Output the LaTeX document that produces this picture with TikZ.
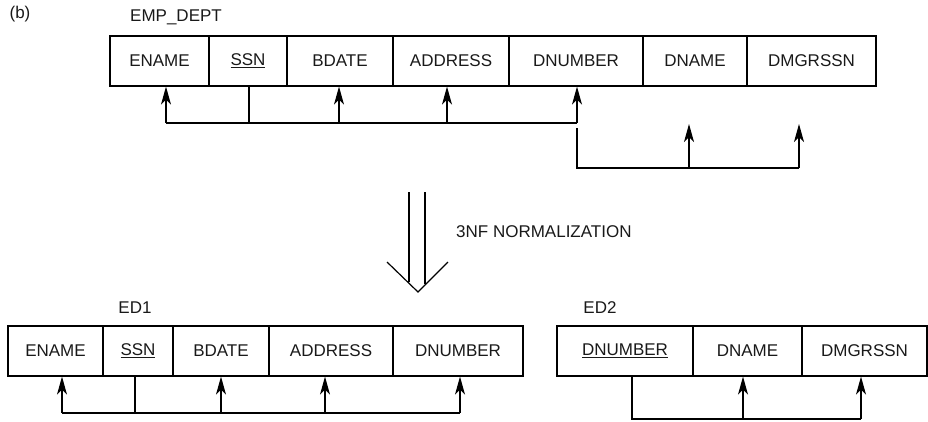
\documentclass[tikz,border=0pt]{standalone}
\usepackage{fontspec}
\setmainfont{Liberation Sans}
\usetikzlibrary{arrows.meta}
\begin{document}
\begin{tikzpicture}[x=1pt,y=-1pt,
  cell/.style={draw, line width=1.2pt, minimum height=50pt, inner sep=0pt, anchor=center,
    font=\fontsize{17}{20}\selectfont, text=black!90},
  lbl/.style={font=\fontsize{17}{20}\selectfont, inner sep=0pt, text=black!90},
  fd/.style={line width=1.2pt},
  arr/.style={line width=1.2pt, -{Stealth[length=18pt,width=10pt,inset=5pt]}}]
\useasboundingbox (0,0) rectangle (928,421);

% labels
\node[lbl] (b) at (20,14) {(b)};
\node[lbl] (empdept) at (176,17) {EMP\_DEPT};
\node[lbl] (ed1) at (135,308) {ED1};
\node[lbl] (ed2) at (600,308) {ED2};
\node[lbl, anchor=west] (norm) at (456,232) {3NF NORMALIZATION};

% EMP_DEPT table
\node[cell, minimum width=99pt]  (t1) at (159.5,61) {ENAME};
\node[cell, minimum width=78pt]  (t2) at (248,61)   {\underline{SSN}};
\node[cell, minimum width=106pt] (t3) at (340,61)   {BDATE};
\node[cell, minimum width=116pt] (t4) at (451,61)   {ADDRESS};
\node[cell, minimum width=134pt] (t5) at (576,61)   {DNUMBER};
\node[cell, minimum width=104pt] (t6) at (695,61)   {DNAME};
\node[cell, minimum width=129pt] (t7) at (811.5,61) {DMGRSSN};

% FD 1 (top)
\coordinate (h1) at (166,123);
\coordinate (h2) at (577,123);
\draw[fd] ([xshift=1pt]t2.south) -- ([xshift=1pt]t2.south |- h1);
\draw[fd] (h1) -- (h2);
\draw[arr] (h1) -- ([xshift=6.5pt]t1.south);
\draw[arr] ([xshift=-1pt]t3.south |- h1) -- ([xshift=-1pt]t3.south);
\draw[arr] ([xshift=-4pt]t4.south |- h1) -- ([xshift=-4pt]t4.south);
\draw[arr] (h2) -- ([xshift=1pt]t5.south);

% FD 2 (top)
\coordinate (g0) at (577,128);
\coordinate (g1) at (577,168);
\coordinate (g2) at (799,168);
\coordinate (ga) at (689,124);
\coordinate (gb) at (799,124);
\draw[fd] (g0) -- (g1) -- (g2);
\draw[arr] (ga |- g1) -- (ga);
\draw[arr] (g2) -- (gb);

% double arrow
\coordinate (d1) at (409,192);
\coordinate (d2) at (425,192);
\coordinate (dl) at (387,262);
\coordinate (dt) at (418,292);
\coordinate (dr) at (448,262);
\draw[line width=1.2pt] (d1) -- (409,282);
\draw[line width=1.2pt] (d2) -- (425,284);
\draw[line width=1.2pt] (dl) -- (dt) -- (dr);

% ED1 table
\node[cell, minimum width=95pt]  (a1) at (55.5,351) {ENAME};
\node[cell, minimum width=70pt]  (a2) at (138,351)  {\underline{SSN}};
\node[cell, minimum width=96pt]  (a3) at (221,351)  {BDATE};
\node[cell, minimum width=124pt] (a4) at (331,351)  {ADDRESS};
\node[cell, minimum width=130pt] (a5) at (458,351)  {DNUMBER};

\coordinate (k1) at (62,413);
\coordinate (k2) at (460,413);
\draw[fd] ([xshift=-3pt]a2.south) -- ([xshift=-3pt]a2.south |- k1);
\draw[fd] (k1) -- (k2);
\draw[arr] (k1) -- ([xshift=6.5pt]a1.south);
\draw[arr] (a3.south |- k1) -- (a3.south);
\draw[arr] ([xshift=-6pt]a4.south |- k1) -- ([xshift=-6pt]a4.south);
\draw[arr] (k2) -- ([xshift=2pt]a5.south);

% ED2 table
\node[cell, minimum width=136pt] (c1) at (625,351)   {\underline{DNUMBER}};
\node[cell, minimum width=109pt] (c2) at (747.5,351) {DNAME};
\node[cell, minimum width=125pt] (c3) at (864.5,351) {DMGRSSN};

\coordinate (m1) at (632,419);
\coordinate (m2) at (861,419);
\draw[fd] ([xshift=7pt]c1.south) -- (m1) -- (m2);
\draw[arr] ([xshift=-4.5pt]c2.south |- m1) -- ([xshift=-4.5pt]c2.south);
\draw[arr] (m2) -- ([xshift=-3.5pt]c3.south);
\end{tikzpicture}
\end{document}
